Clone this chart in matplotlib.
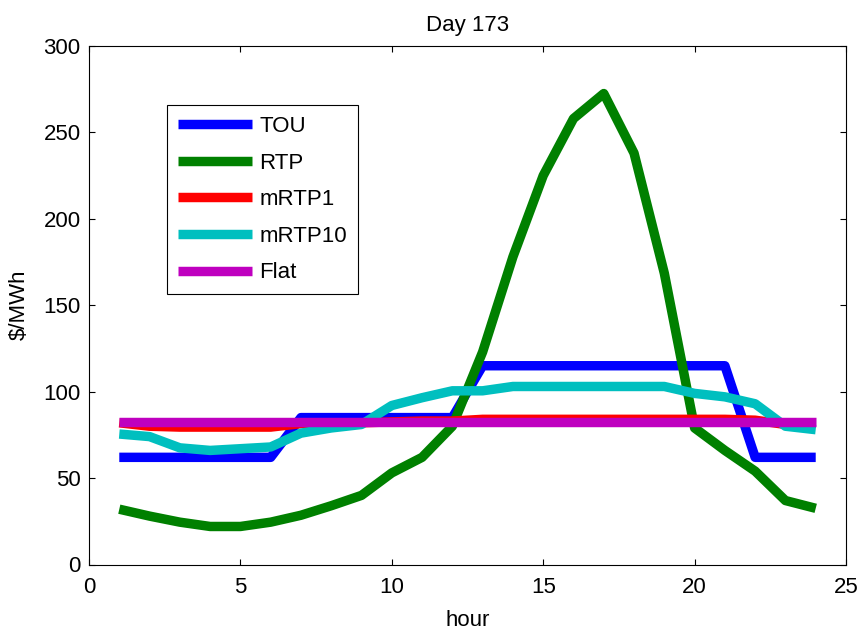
import matplotlib
matplotlib.use("Agg")
import matplotlib.pyplot as plt

hours = list(range(1, 25))

tou = [62, 62, 62, 62, 62, 62, 85, 85, 85, 85, 85, 85,
       115, 115, 115, 115, 115, 115, 115, 115, 115, 62, 62, 62]
rtp = [32, 28, 24.5, 22, 22, 24.5, 28.5, 34, 40, 53, 62, 80,
       123, 178, 225, 258, 272.5, 238, 168.5, 79, 66, 54, 37, 32.5]
mrtp1 = [82, 80, 79.5, 79.5, 79.5, 79.5, 81.5, 82, 82, 82.5, 83, 83,
         84, 84, 84, 84, 84, 84, 84, 84, 84, 83.5, 81, 82]
mrtp10 = [75.5, 74, 67.5, 66, 67, 68, 76, 79, 81, 92, 96.5, 100.5,
          100.5, 103, 103, 103, 103, 103, 103, 99, 97, 93, 80, 78]
flat = [82.5] * 24

series_names = ["TOU", "RTP", "mRTP1", "mRTP10", "Flat"]
series_values = [tou, rtp, mrtp1, mrtp10, flat]
series_colors = ["#0000ff", "#008000", "#ff0000", "#00bfbf", "#bf00bf"]

x_ticks = [0, 5, 10, 15, 20, 25]
y_ticks = [0, 50, 100, 150, 200, 250, 300]

plt.rcParams["font.family"] = ["Liberation Sans", "DejaVu Sans"]
plt.rcParams["font.size"] = 16

fig = plt.figure(figsize=(8.6, 6.33), dpi=100)
ax = fig.add_axes([89 / 860, 1 - 564.5 / 633, (846 - 89) / 860, (564.5 - 46) / 633])

for name, vals, col in zip(series_names, series_values, series_colors):
    ax.plot(hours, vals, color=col, linewidth=6.8, label=name,
            solid_joinstyle="round", solid_capstyle="butt")

ax.set_xlim(0, 25)
ax.set_ylim(0, 300)
ax.set_xticks(x_ticks)
ax.set_yticks(y_ticks)
ax.tick_params(direction="in", length=4, width=0.8, top=True, right=True,
               labelsize=16)
ax.tick_params(axis="x", pad=9)
ax.tick_params(axis="y", pad=6)
for sp in ax.spines.values():
    sp.set_linewidth(0.8)

ax.set_title("Day 173", fontsize=16, pad=11)
ax.set_xlabel("hour", fontsize=16, labelpad=9)
ax.set_ylabel("$/MWh", fontsize=16, labelpad=10)

leg = ax.legend(loc="upper left", bbox_to_anchor=(166.7 / 860, 1 - 105 / 633),
                bbox_transform=fig.transFigure, borderaxespad=0,
                fontsize=16, frameon=True, fancybox=False, shadow=False,
                handlelength=3.35, handletextpad=0.32, labelspacing=0.7,
                borderpad=0.5)
fr = leg.get_frame()
fr.set_edgecolor("black")
fr.set_linewidth(0.8)
fr.set_alpha(1)

fig.savefig("out.png", dpi=100)
